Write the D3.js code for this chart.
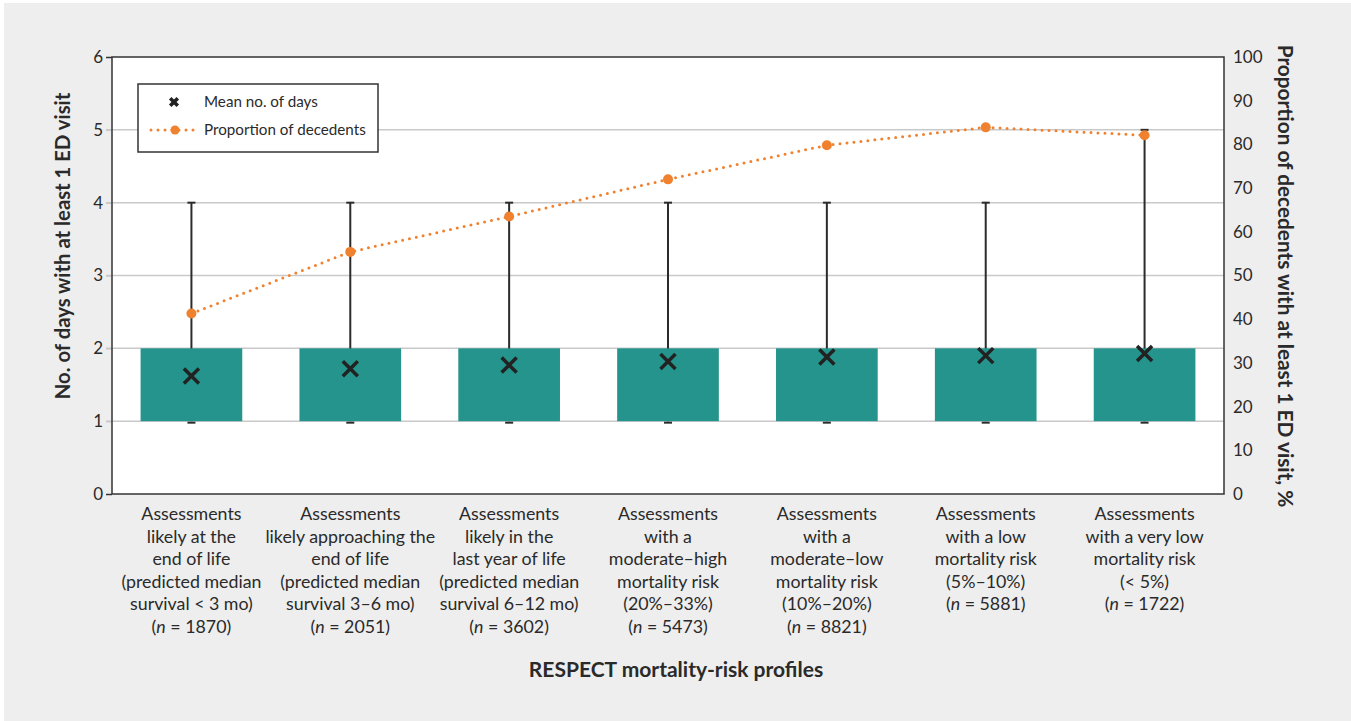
<!DOCTYPE html>
<html>
<head>
<meta charset="utf-8">
<script src="https://cdn.jsdelivr.net/npm/d3@7"></script>
<style>
  html, body { margin: 0; padding: 0; background: #ffffff; }
  svg { display: block; }
  text { font-family: "Source Sans Pro", "Lato", "Open Sans", sans-serif; fill: #2a2a2a; }
</style>
</head>
<body>
<svg id="chart" width="1351" height="721"></svg>
<script>
// Category labels (one array of lines per risk profile)
const categories = [
  ["Assessments", "likely at the", "end of life", "(predicted median", "survival < 3 mo)"],
  ["Assessments", "likely approaching the", "end of life", "(predicted median", "survival 3–6 mo)"],
  ["Assessments", "likely in the", "last year of life", "(predicted median", "survival 6–12 mo)"],
  ["Assessments", "with a", "moderate–high", "mortality risk", "(20%–33%)"],
  ["Assessments", "with a", "moderate–low", "mortality risk", "(10%–20%)"],
  ["Assessments", "with a low", "mortality risk", "(5%–10%)"],
  ["Assessments", "with a very low", "mortality risk", "(< 5%)"]
];
const sampleSizes = [1870, 2051, 3602, 5473, 8821, 5881, 1722];

// Distribution of number of days with at least 1 ED visit
const minDays = [1, 1, 1, 1, 1, 1, 1];
const q1Days = [1, 1, 1, 1, 1, 1, 1];
const q3Days = [2, 2, 2, 2, 2, 2, 2];
const maxDays = [4, 4, 4, 4, 4, 4, 5];
const meanDays = [1.62, 1.72, 1.77, 1.82, 1.88, 1.90, 1.93];

// Proportion of decedents with at least 1 ED visit (%)
const proportion = [41.3, 55.4, 63.5, 72.0, 79.8, 83.9, 82.1];

const leftTicks = [0, 1, 2, 3, 4, 5, 6];
const rightTicks = [0, 10, 20, 30, 40, 50, 60, 70, 80, 90, 100];

const svg = d3.select("#chart");
const W = 1351, H = 721;
const plot = { left: 112, right: 1224, top: 57, bottom: 494 };
const FONT = '"Source Sans Pro", "Lato", sans-serif';

// page panel
svg.append("rect").attr("x", 4).attr("y", 3).attr("width", W - 4).attr("height", H - 3).attr("fill", "#eeeeee");
svg.append("rect").attr("x", plot.left).attr("y", plot.top)
  .attr("width", plot.right - plot.left).attr("height", plot.bottom - plot.top).attr("fill", "#ffffff");

const idx = d3.range(categories.length);
const x = d3.scaleBand().domain(idx).range([plot.left, plot.right]).paddingInner(0.36).paddingOuter(0.18);
const yL = d3.scaleLinear().domain([0, 6]).range([plot.bottom, plot.top]);
const yR = d3.scaleLinear().domain([0, 100]).range([plot.bottom, plot.top]);
const cx = i => x(i) + x.bandwidth() / 2;

// gridlines
svg.append("g").selectAll("line").data(leftTicks.filter(t => t > 0 && t < 6)).join("line")
  .attr("x1", plot.left - 6).attr("x2", plot.right)
  .attr("y1", d => yL(d)).attr("y2", d => yL(d))
  .attr("stroke", "#c9c9c9").attr("stroke-width", 1.5);

// left axis
const gL = svg.append("g").attr("transform", `translate(${plot.left},0)`)
  .call(d3.axisLeft(yL).tickValues(leftTicks).tickSize(6).tickPadding(3).tickFormat(d3.format("d")));
gL.select(".domain").remove();
gL.selectAll(".tick line").attr("stroke", d => (d === 0 || d === 6) ? "#333" : "#c9c9c9").attr("stroke-width", 1.5);
gL.selectAll(".tick text").attr("font-size", 17).attr("fill", "#2a2a2a").style("font-family", FONT);

// right axis
const gR = svg.append("g").attr("transform", `translate(${plot.right},0)`)
  .call(d3.axisRight(yR).tickValues(rightTicks).tickSize(0).tickPadding(9));
gR.select(".domain").remove();
gR.selectAll(".tick text").attr("font-size", 17).attr("fill", "#2a2a2a").style("font-family", FONT);

// whiskers
const gW = svg.append("g").attr("stroke", "#2b2b2b").attr("stroke-width", 2);
gW.selectAll("line.stem").data(idx).join("line").attr("class", "stem")
  .attr("x1", cx).attr("x2", cx)
  .attr("y1", i => yL(minDays[i])).attr("y2", i => yL(maxDays[i]));
gW.selectAll("line.capTop").data(idx).join("line").attr("class", "capTop")
  .attr("x1", i => cx(i) - 4).attr("x2", i => cx(i) + 4)
  .attr("y1", i => yL(maxDays[i])).attr("y2", i => yL(maxDays[i]));
gW.selectAll("line.capBot").data(idx).join("line").attr("class", "capBot")
  .attr("x1", i => cx(i) - 4).attr("x2", i => cx(i) + 4)
  .attr("y1", i => yL(minDays[i]) + 1.5).attr("y2", i => yL(minDays[i]) + 1.5);

// interquartile boxes
svg.append("g").selectAll("rect").data(idx).join("rect")
  .attr("x", i => x(i)).attr("width", x.bandwidth())
  .attr("y", i => yL(q3Days[i])).attr("height", i => yL(q1Days[i]) - yL(q3Days[i]))
  .attr("fill", "#24948c");

// frame
svg.append("rect").attr("x", plot.left).attr("y", plot.top)
  .attr("width", plot.right - plot.left).attr("height", plot.bottom - plot.top)
  .attr("fill", "none").attr("stroke", "#333").attr("stroke-width", 1.5);

// mean markers
const xMark = (g, s, w) => g.append("path")
  .attr("d", `M${-s},${-s}L${s},${s}M${-s},${s}L${s},${-s}`)
  .attr("stroke", "#222").attr("stroke-width", w).attr("fill", "none");
svg.append("g").selectAll("g").data(idx).join("g")
  .attr("transform", i => `translate(${cx(i)},${yL(meanDays[i])})`)
  .each(function () { xMark(d3.select(this), 7.5, 3.5); });

// proportion line
const orange = "#f0822f";
svg.append("path").datum(idx)
  .attr("d", d3.line().x(cx).y(i => yR(proportion[i])))
  .attr("fill", "none").attr("stroke", orange).attr("stroke-width", 3)
  .attr("stroke-linecap", "round").attr("stroke-dasharray", "0 7");
svg.append("g").selectAll("circle").data(idx).join("circle")
  .attr("cx", cx).attr("cy", i => yR(proportion[i])).attr("r", 5).attr("fill", orange);

// legend
const lg = svg.append("g").attr("transform", "translate(138,84)");
lg.append("rect").attr("width", 240).attr("height", 68).attr("fill", "#fff")
  .attr("stroke", "#333").attr("stroke-width", 1.5);
xMark(lg.append("g").attr("transform", "translate(36,18)"), 3.8, 3.6);
lg.append("text").attr("x", 66).attr("y", 18).attr("dy", "0.35em").attr("font-size", 15.2).text("Mean no. of days");
lg.append("line").attr("x1", 13).attr("x2", 61).attr("y1", 46).attr("y2", 46)
  .attr("stroke", orange).attr("stroke-width", 3).attr("stroke-linecap", "round").attr("stroke-dasharray", "0 7");
lg.append("circle").attr("cx", 37).attr("cy", 46).attr("r", 4.5).attr("fill", orange);
lg.append("text").attr("x", 66).attr("y", 46).attr("dy", "0.35em").attr("font-size", 15.2).text("Proportion of decedents");

// category labels
const lineH = 22.5;
const gx = svg.append("g").attr("text-anchor", "middle").attr("font-size", 17.8);
idx.forEach(i => {
  const t = gx.append("text").attr("x", cx(i)).attr("y", 520);
  categories[i].forEach((ln, k) => {
    t.append("tspan").attr("x", cx(i)).attr("y", 520 + k * lineH).text(ln);
  });
  const last = t.append("tspan").attr("x", cx(i)).attr("y", 520 + categories[i].length * lineH);
  last.text("(");
  t.append("tspan").attr("font-style", "italic").text("n");
  t.append("tspan").text(" = " + sampleSizes[i] + ")");
});

// axis titles
svg.append("text").attr("text-anchor", "middle").attr("font-weight", "bold").attr("font-size", 20.3)
  .attr("transform", "translate(69.5,246) rotate(-90)")
  .text("No. of days with at least 1 ED visit");
svg.append("text").attr("text-anchor", "middle").attr("font-weight", "bold").attr("font-size", 20.8)
  .attr("transform", "translate(1278,276) rotate(90)")
  .text("Proportion of decedents with at least 1 ED visit, %");
svg.append("text").attr("x", 676).attr("y", 677).attr("text-anchor", "middle")
  .attr("font-weight", "bold").attr("font-size", 21)
  .text("RESPECT mortality-risk profiles");
</script>
</body>
</html>
